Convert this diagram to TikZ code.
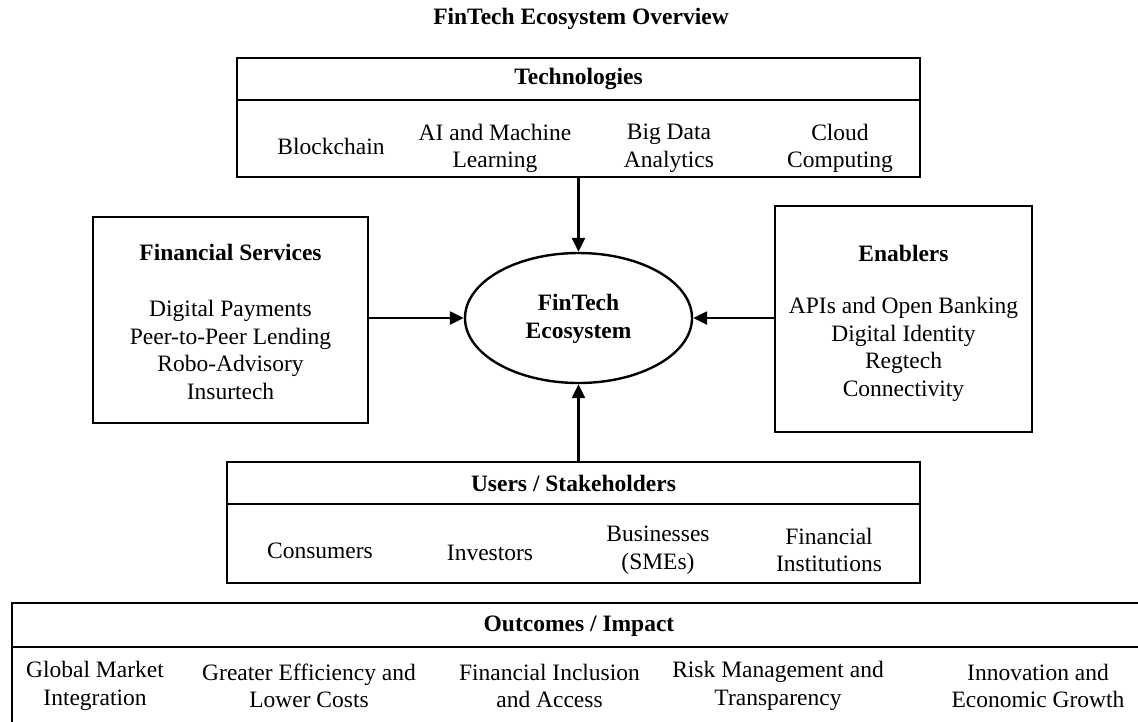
\documentclass[tikz,border=0pt]{standalone}
\usepackage{fontspec}
\setmainfont{Liberation Serif}
\usetikzlibrary{arrows.meta,shapes.geometric}
\begin{document}
\begin{tikzpicture}[x=1pt,y=-1pt,
  every node/.style={font=\fontsize{23.5}{27.5}\selectfont, inner sep=0pt, align=center},
  recbox/.style={draw, line width=2.4pt, rectangle, fill=none},
  hd/.style={font=\fontsize{23.5}{27.5}\selectfont\bfseries},
  sep/.style={line width=2.4pt},
  arr/.style={line width=2.4pt, -{Triangle[length=14pt,width=13pt]}},
  ell/.style={draw, line width=2.4pt, ellipse, minimum width=227pt, minimum height=130pt}]
\useasboundingbox (0,0) rectangle (1138,721);
\begin{scope}
\clip (0,0) rectangle (1138,721);
% title
\node[hd] (title) at (581,19) {FinTech Ecosystem Overview};
% Technologies
\node[recbox, minimum width=683pt, minimum height=119pt] (tech) at (578.5,117.5) {};
\draw[sep] (237,100) -- (920,100);
\node[hd] (techh) at (578.5,79) {Technologies};
\node (t1) at (331,146) {Blockchain};
\node (t2) at (495,148.5) {AI and Machine\\Learning};
\node (t3) at (669,148.5) {Big Data\\Analytics};
\node (t4) at (840,148.5) {Cloud\\Computing};
% Ellipse
\node[ell] (eco) at (578.5,318) {};
\node[hd, align=center] (ecot) at (578.5,319) {FinTech\\Ecosystem};
% Financial services
\node[recbox, minimum width=275pt, minimum height=206pt] (fs) at (230.5,320) {};
\node[hd] (fsh) at (230.5,252) {Financial Services};
\node (fsi) at (230.5,350) {Digital Payments\\Peer-to-Peer Lending\\Robo-Advisory\\Insurtech};
% Enablers
\node[recbox, minimum width=257pt, minimum height=226pt] (en) at (903.5,319) {};
\node[hd] (enh) at (903.5,253) {Enablers};
\node (eni) at (903.5,349.5) {APIs and Open Banking\\Digital Identity\\Regtech\\Connectivity};
% Users
\node[recbox, minimum width=693pt, minimum height=121pt] (us) at (573.5,522.5) {};
\draw[sep] (227,504) -- (920,504);
\node[hd] (ush) at (573.5,483) {Users / Stakeholders};
\node (u1) at (320,551) {Consumers};
\node (u2) at (490,553) {Investors};
\node (u3) at (658,550) {Businesses\\(SMEs)};
\node (u4) at (829,550) {Financial\\Institutions};
% Outcomes
\node[recbox, minimum width=1134pt, minimum height=125pt] (out) at (579,665.5) {};
\draw[sep] (12,647) -- (1146,647);
\node[hd] (outh) at (579,626) {Outcomes / Impact};
\node (o1) at (95,686) {Global Market\\Integration};
\node (o2) at (309,686) {Greater Efficiency and\\Lower Costs};
\node (o3) at (549.5,686) {Financial Inclusion\\and Access};
\node (o4) at (778,686) {Risk Management and\\Transparency};
\node (o5) at (1038,686) {Innovation and\\Economic Growth};
% arrows
\draw[arr] (tech.south -| eco.north) -- (eco.north);
\draw[arr] (fs.east |- eco.west) -- (eco.west);
\draw[arr] (en.west |- eco.east) -- (eco.east);
\draw[arr] (us.north -| eco.south) -- (eco.south);
\end{scope}
\end{tikzpicture}
\end{document}
